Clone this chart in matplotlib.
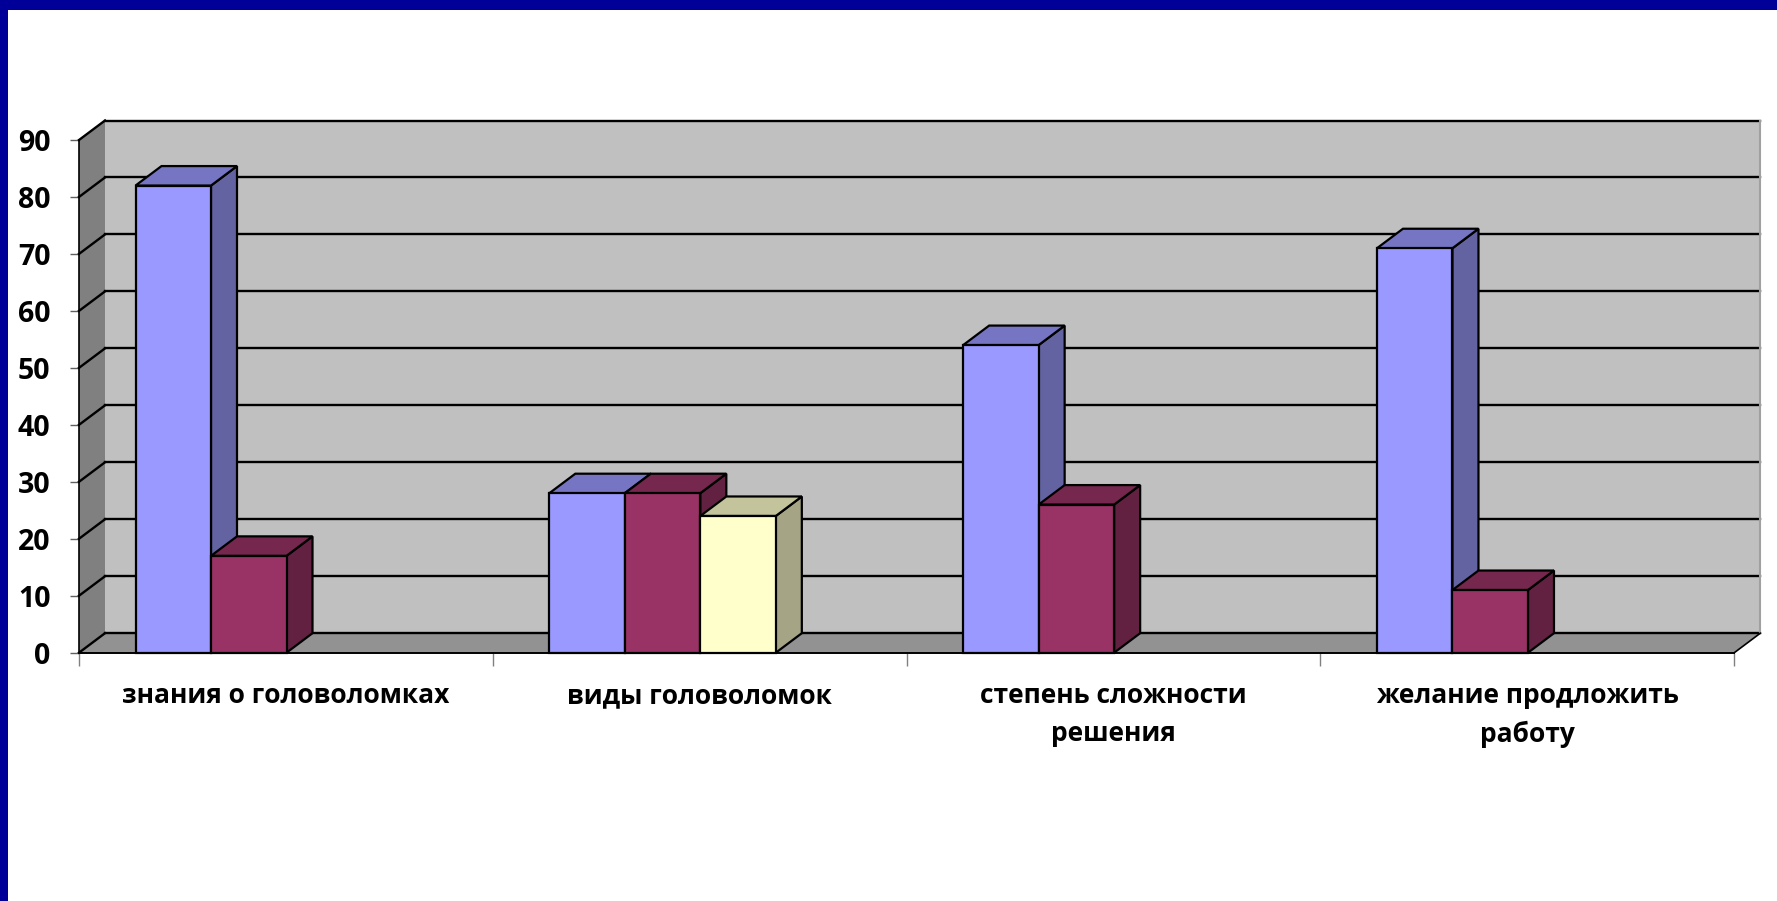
import matplotlib
matplotlib.use("Agg")
import matplotlib.pyplot as plt
from matplotlib.patches import Polygon, Rectangle
from matplotlib.lines import Line2D

# ---------------- data ----------------
categories = ["знания о головоломках", "виды головоломок",
              "степень сложности\nрешения", "желание продложить\nработу"]
series_1 = [82, 28, 54, 71]
series_2 = [17, 28, 26, 11]
series_3 = [None, 24, None, None]
y_ticks = [0, 10, 20, 30, 40, 50, 60, 70, 80, 90]

# ---------------- style ----------------
W, H, DPI = 1777, 901, 100
FONT = ["Open Sans", "DejaVu Sans"]
face_cols = ["#9999FF", "#993366", "#FFFFCC"]
top_cols = ["#7575C4", "#75274E", "#C4C49C"]
side_cols = ["#6363A2", "#632142", "#A5A585"]

fig = plt.figure(figsize=(W / DPI, H / DPI), dpi=DPI)
fig.patch.set_facecolor("white")

# frame (top and left blue border)
fig.add_artist(Rectangle((0, 1 - 10 / H), 1, 10 / H, transform=fig.transFigure,
                         facecolor="#000099", edgecolor="none", zorder=10))
fig.add_artist(Rectangle((0, 0), 8 / W, 1, transform=fig.transFigure,
                         facecolor="#000099", edgecolor="none", zorder=10))

x_left, x_right, y_bot, y_top = 79.0, 1734.3, 652.7, 140.0
ax = fig.add_axes([x_left / W, 1 - y_bot / H, (x_right - x_left) / W, (y_bot - y_top) / H])
ncat = len(categories)
ax.set_xlim(0, ncat)
ax.set_ylim(0, 90)
ax.patch.set_visible(False)
for s in ["top", "right", "bottom"]:
    ax.spines[s].set_visible(False)
ax.spines["left"].set_color("black")
ax.spines["left"].set_linewidth(1.2)
ax.spines["left"].set_zorder(3)

# depth offset in data units (from pixel depth 26 x 19.5)
px_per_x = (x_right - x_left) / ncat
px_per_y = (y_bot - y_top) / 90
DX = 26 / px_per_x
DY = 19.5 / px_per_y
ymax = 90

# walls
floor = Polygon([(0, 0), (ncat, 0), (ncat + DX, DY), (DX, DY)], closed=True,
                facecolor="#929292", edgecolor="none", zorder=1, clip_on=False)
side = Polygon([(0, 0), (0, ymax), (DX, ymax + DY), (DX, DY)], closed=True,
               facecolor="#808080", edgecolor="none", zorder=1, clip_on=False)
back = Polygon([(DX, DY), (ncat + DX, DY), (ncat + DX, ymax + DY), (DX, ymax + DY)],
               closed=True, facecolor="#C0C0C0", edgecolor="none", zorder=1, clip_on=False)
for p in (floor, side, back):
    ax.add_patch(p)

# gridlines on back wall + side wall
for v in y_ticks:
    ax.add_line(Line2D([DX, ncat + DX], [v + DY, v + DY], color="black", lw=1.7,
                       zorder=2, clip_on=False))
    ax.add_line(Line2D([0, DX], [v, v + DY], color="black", lw=1.7, zorder=2, clip_on=False))
# right edge of back wall and floor
ax.add_line(Line2D([ncat + DX, ncat + DX], [DY, ymax + DY], color="#A0A0A0", lw=1.5,
                   zorder=2, clip_on=False))
ax.add_line(Line2D([ncat, ncat + DX], [0, DY], color="black", lw=1.2, zorder=2, clip_on=False))
ax.add_line(Line2D([0, ncat], [0, 0], color="black", lw=1.4, zorder=6, clip_on=False))

# bars
bar_w = 75.5 / px_per_x
offset = 56.5 / px_per_x
series = [series_1, series_2, series_3]
z = 3
for c in range(ncat):
    for s, vals in enumerate(series):
        h = vals[c]
        if h is None:
            continue
        x0 = c + offset + s * bar_w
        x1 = x0 + bar_w
        kw = dict(edgecolor="black", linewidth=1.6, joinstyle="miter", clip_on=False)
        ax.add_patch(Polygon([(x1, 0), (x1 + DX, DY), (x1 + DX, h + DY), (x1, h)],
                             closed=True, facecolor=side_cols[s], zorder=z, **kw))
        ax.add_patch(Polygon([(x0, h), (x1, h), (x1 + DX, h + DY), (x0 + DX, h + DY)],
                             closed=True, facecolor=top_cols[s], zorder=z, **kw))
        ax.add_patch(Rectangle((x0, 0), bar_w, h, facecolor=face_cols[s], zorder=z, **kw))
        z += 0.01

# y axis ticks / labels
ax.set_yticks(y_ticks)
ax.set_yticklabels([str(v) for v in y_ticks])
ax.tick_params(axis="y", direction="out", length=6.5, width=1, color="#606060", pad=14,
               labelsize=20.5)
for lbl in ax.get_yticklabels():
    lbl.set_fontfamily(FONT)
    lbl.set_fontweight("bold")

# x axis: boundary ticks, centred labels
ax.set_xticks(range(ncat + 1))
ax.set_xticklabels([""] * (ncat + 1))
ax.tick_params(axis="x", which="major", direction="out", length=9, width=1, color="#808080")
ax.set_xticks([c + 0.5 for c in range(ncat)], minor=True)
ax.set_xticklabels(categories, minor=True)
ax.tick_params(axis="x", which="minor", length=0, pad=21, labelsize=19)
for lbl in ax.get_xticklabels(minor=True):
    lbl.set_fontfamily(FONT)
    lbl.set_fontweight("bold")
    lbl.set_linespacing(1.55)

fig.savefig("out.png", dpi=DPI, facecolor="white")
